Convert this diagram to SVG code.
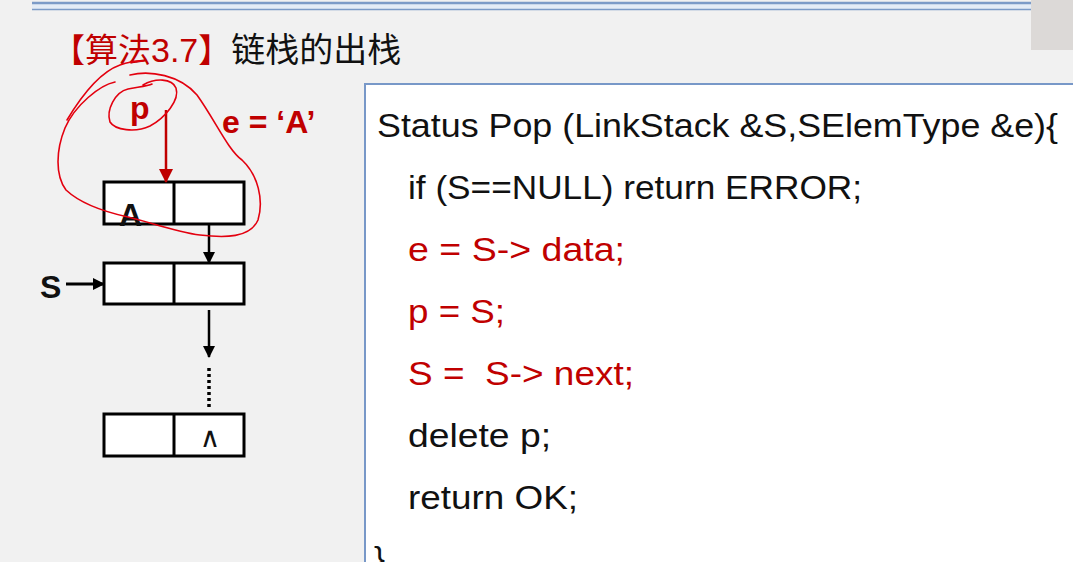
<svg xmlns="http://www.w3.org/2000/svg" width="1073" height="562" viewBox="0 0 1073 562">
<defs>
<style>
.code{font-family:"Liberation Sans",Arial,sans-serif;font-size:33px;}
.blk{fill:#111;}
.red{fill:#c00000;}
.lbl{font-family:"Liberation Sans",Arial,sans-serif;font-weight:bold;font-size:32px;}
.cell{fill:#fff;stroke:#000;stroke-width:3;}
.ink{fill:none;stroke:#e3000f;stroke-width:1.6;stroke-linecap:round;stroke-linejoin:round;}
</style>
<marker id="ah" markerWidth="12" markerHeight="12" refX="11" refY="6" orient="auto" markerUnits="userSpaceOnUse">
<path d="M0,0 L12,6 L0,12 Z" fill="#000"/>
</marker>
<marker id="ahr" markerWidth="14" markerHeight="14" refX="13" refY="7" orient="auto" markerUnits="userSpaceOnUse">
<path d="M0,0 L14,7 L0,14 Z" fill="#c00000"/>
</marker>
</defs>
<rect width="1073" height="562" fill="#f1f1f1"/>
<g id="header">
<rect x="32" y="4" width="999" height="5" fill="#e4ecf6"/>
<line x1="32" y1="3" x2="1031" y2="3" stroke="#7c9bc7" stroke-width="2.5"/>
<line x1="32" y1="9.5" x2="1031" y2="9.5" stroke="#7c9bc7" stroke-width="1.5"/>
<rect x="1031" y="0" width="42" height="50" fill="#dcd9d7"/>
<text x="52" y="62" font-family="'Noto Sans CJK SC',sans-serif" font-size="33"><tspan fill="#c00000">【算法</tspan><tspan fill="#c00000" font-family="'Liberation Sans',sans-serif" font-size="34">3.7</tspan><tspan fill="#c00000">】</tspan><tspan fill="#111" font-size="34">链栈的出栈</tspan></text>
</g>
<g id="code">
<rect x="365" y="84" width="730" height="500" fill="#fff" stroke="#7898c8" stroke-width="2"/>
<text class="code blk" x="377" y="137" textLength="681" lengthAdjust="spacingAndGlyphs">Status Pop (LinkStack &amp;S,SElemType &amp;e){</text>
<text class="code blk" x="408" y="199" textLength="454" lengthAdjust="spacingAndGlyphs">if (S==NULL) return ERROR;</text>
<text class="code red" x="408" y="261" textLength="217" lengthAdjust="spacingAndGlyphs">e = S-&gt; data;</text>
<text class="code red" x="408" y="323" textLength="97" lengthAdjust="spacingAndGlyphs">p = S;</text>
<text class="code red" x="408" y="385" textLength="226" lengthAdjust="spacingAndGlyphs" xml:space="preserve">S =  S-&gt; next;</text>
<text class="code blk" x="408" y="447" textLength="143" lengthAdjust="spacingAndGlyphs">delete p;</text>
<text class="code blk" x="408" y="509" textLength="170" lengthAdjust="spacingAndGlyphs">return OK;</text>
<text class="code blk" x="374" y="570">}</text>
</g>
<g id="node1">
<rect class="cell" x="104" y="182" width="140" height="42"/>
<line x1="174" y1="182" x2="174" y2="224" stroke="#000" stroke-width="3"/>
<text class="lbl" x="119" y="226" font-size="31" fill="#111">A</text>
</g>
<g id="node2">
<rect class="cell" x="104" y="263" width="140" height="41"/>
<line x1="174" y1="263" x2="174" y2="304" stroke="#000" stroke-width="3"/>
</g>
<g id="node3">
<rect class="cell" x="104" y="414" width="140" height="42"/>
<line x1="174" y1="414" x2="174" y2="456" stroke="#000" stroke-width="3"/>
<text x="210" y="447" text-anchor="middle" font-family="'DejaVu Sans',sans-serif" font-size="28" fill="#111">∧</text>
</g>
<g id="labels">
<text class="lbl red" x="130" y="119">p</text>
<text class="lbl red" x="222" y="133">e = ‘A’</text>
<text class="lbl" x="40" y="298" fill="#111">S</text>
</g>
<g id="connectors">
<line x1="166" y1="110" x2="166" y2="182" stroke="#c00000" stroke-width="2.5" marker-end="url(#ahr)"/>
<line x1="209" y1="224" x2="209" y2="263" stroke="#000" stroke-width="2.5" marker-end="url(#ah)"/>
<line x1="66" y1="284" x2="104" y2="284" stroke="#000" stroke-width="3" marker-end="url(#ah)"/>
<line x1="209" y1="310" x2="209" y2="357" stroke="#000" stroke-width="2.5" marker-end="url(#ah)"/>
<line x1="209" y1="368" x2="209" y2="407" stroke="#000" stroke-width="3.5" stroke-dasharray="3,3"/>
</g>
<g id="annotations">
<path class="ink" d="M143,85 C155,78 172,78 176,88 C180,100 165,118 150,126 C135,133 115,130 110,122 C106,110 115,92 128,89 C138,87 148,86 152,84"/>
<path class="ink" d="M67,120 C82,95 100,72 120,65 C128,62 137,61 143,61"/>
<path class="ink" d="M130,75 C150,70 180,75 197,95 C215,120 228,150 242,160 C258,175 264,200 258,220 C250,238 225,238 200,235 C175,232 150,222 128,217 C105,212 82,205 66,190 C55,175 56,150 65,128 C75,105 100,85 115,82"/>
</g>
</svg>
